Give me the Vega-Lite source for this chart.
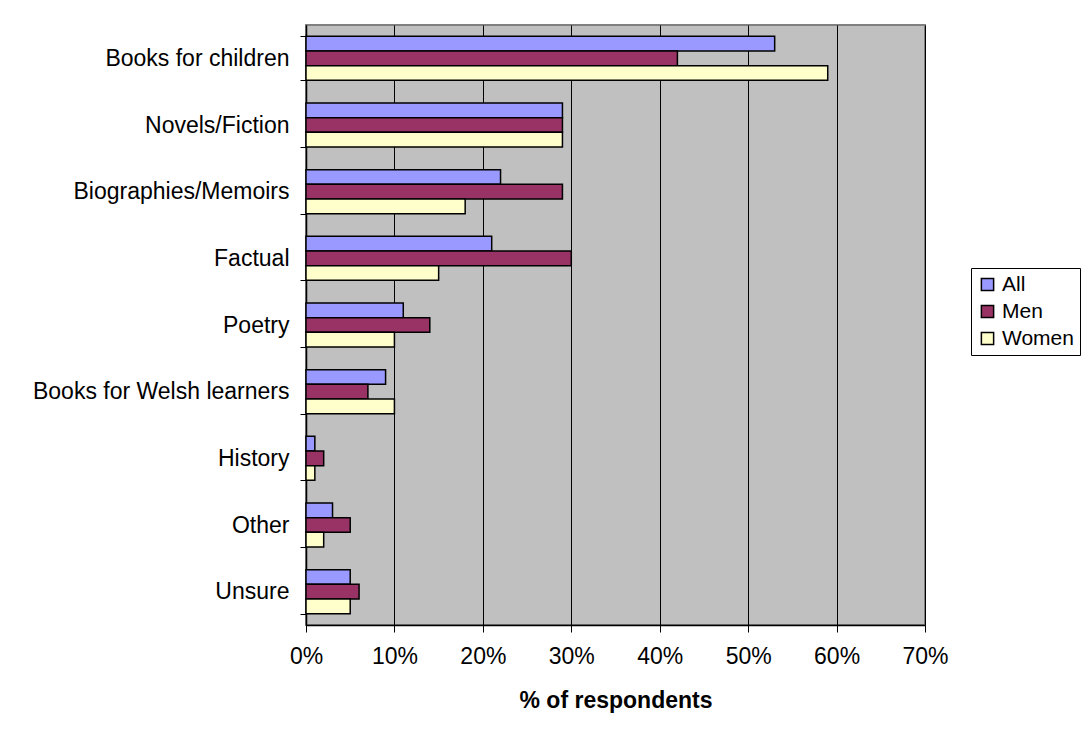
{
  "$schema": "https://vega.github.io/schema/vega-lite/v6.json",
  "width": 619,
  "height": 600,
  "autosize": "none",
  "padding": {"left": 306, "top": 25, "right": 158, "bottom": 115},
  "background": "white",
  "config": {
    "font": "Liberation Sans",
    "view": {"fill": "#C0C0C0", "stroke": "#808080", "strokeWidth": 2}
  },
  "data": {
    "values": [
      {"category": "Books for children", "group": "All", "value": 53},
      {"category": "Books for children", "group": "Men", "value": 42},
      {"category": "Books for children", "group": "Women", "value": 59},
      {"category": "Novels/Fiction", "group": "All", "value": 29},
      {"category": "Novels/Fiction", "group": "Men", "value": 29},
      {"category": "Novels/Fiction", "group": "Women", "value": 29},
      {"category": "Biographies/Memoirs", "group": "All", "value": 22},
      {"category": "Biographies/Memoirs", "group": "Men", "value": 29},
      {"category": "Biographies/Memoirs", "group": "Women", "value": 18},
      {"category": "Factual", "group": "All", "value": 21},
      {"category": "Factual", "group": "Men", "value": 30},
      {"category": "Factual", "group": "Women", "value": 15},
      {"category": "Poetry", "group": "All", "value": 11},
      {"category": "Poetry", "group": "Men", "value": 14},
      {"category": "Poetry", "group": "Women", "value": 10},
      {"category": "Books for Welsh learners", "group": "All", "value": 9},
      {"category": "Books for Welsh learners", "group": "Men", "value": 7},
      {"category": "Books for Welsh learners", "group": "Women", "value": 10},
      {"category": "History", "group": "All", "value": 1},
      {"category": "History", "group": "Men", "value": 2},
      {"category": "History", "group": "Women", "value": 1},
      {"category": "Other", "group": "All", "value": 3},
      {"category": "Other", "group": "Men", "value": 5},
      {"category": "Other", "group": "Women", "value": 2},
      {"category": "Unsure", "group": "All", "value": 5},
      {"category": "Unsure", "group": "Men", "value": 6},
      {"category": "Unsure", "group": "Women", "value": 5}
    ]
  },
  "mark": {"type": "bar", "stroke": "black", "strokeWidth": 1.5},
  "encoding": {
    "y": {
      "field": "category",
      "type": "nominal",
      "sort": ["Books for children", "Novels/Fiction", "Biographies/Memoirs", "Factual", "Poetry", "Books for Welsh learners", "History", "Other", "Unsure"],
      "scale": {"paddingInner": 0.34, "paddingOuter": 0.17},
      "axis": {
        "title": null,
        "tickBand": "extent",
        "tickSize": 6,
        "tickColor": "black",
        "domainColor": "black",
        "domainWidth": 1.5,
        "labelFontSize": 23,
        "labelColor": "black",
        "labelPadding": 11,
        "labelLimit": 400,
        "grid": false
      }
    },
    "yOffset": {"field": "group", "type": "nominal", "sort": ["All", "Men", "Women"]},
    "x": {
      "field": "value",
      "type": "quantitative",
      "scale": {"domain": [0, 70], "nice": false},
      "axis": {
        "values": [0, 10, 20, 30, 40, 50, 60, 70],
        "labelExpr": "datum.value + '%'",
        "labelFlush": false,
        "labelOverlap": false,
        "grid": true,
        "gridColor": "black",
        "gridWidth": 1,
        "domainColor": "black",
        "domainWidth": 1.5,
        "tickColor": "black",
        "tickSize": 7,
        "labelFontSize": 23,
        "labelColor": "black",
        "labelPadding": 13,
        "title": "% of respondents",
        "titleFontSize": 23,
        "titleFontWeight": "bold",
        "titleColor": "black",
        "titlePadding": 21
      }
    },
    "color": {
      "field": "group",
      "type": "nominal",
      "scale": {"domain": ["All", "Men", "Women"], "range": ["#9999FF", "#993366", "#FFFFCC"]},
      "legend": {
        "title": null,
        "orient": "none",
        "legendX": 665,
        "legendY": 243,
        "strokeColor": "black",
        "fillColor": "white",
        "padding": 6,
        "symbolType": "square",
        "symbolSize": 150,
        "symbolStrokeColor": "black",
        "symbolStrokeWidth": 1.5,
        "symbolOpacity": 1,
        "labelFontSize": 21,
        "labelColor": "black",
        "labelOffset": 4,
        "rowPadding": 5
      }
    }
  }
}
